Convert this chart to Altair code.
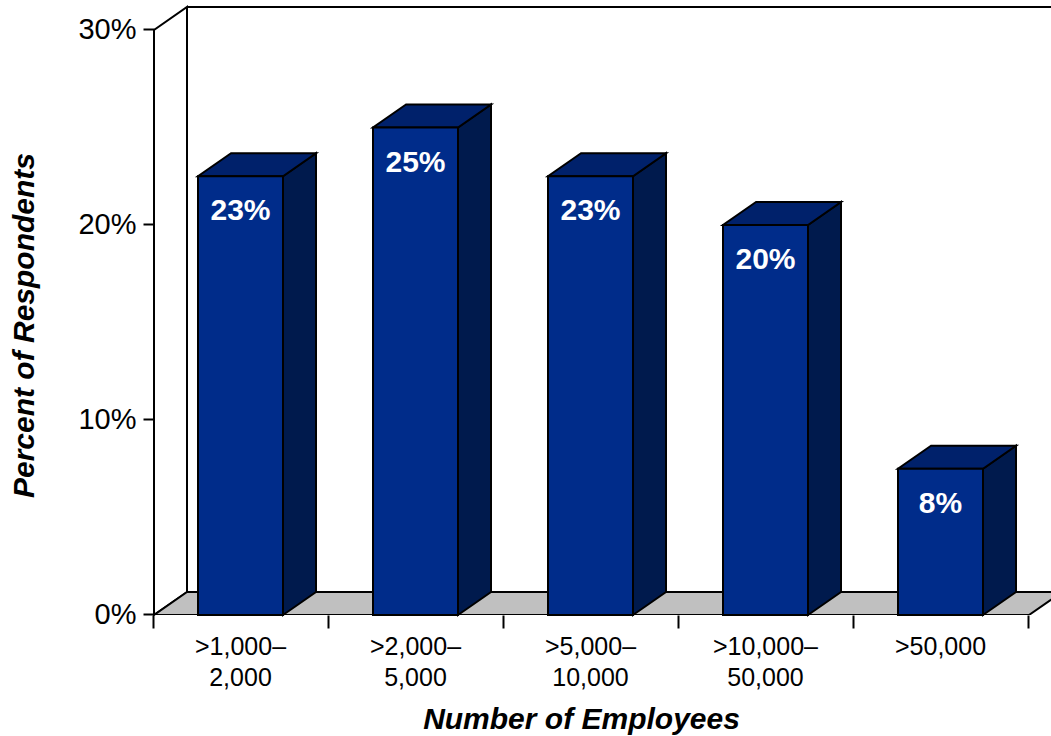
import altair as alt
import pandas as pd

# Survey results by company size
categories = [">1,000–\n2,000", ">2,000–\n5,000", ">5,000–\n10,000", ">10,000–\n50,000", ">50,000"]
percent = [22.5, 25, 22.5, 20, 7.5]
y_ticks = [0, 10, 20, 30]

# Oblique projection of the box shapes, in axis units
DEPTH_X = 33 / 175
DEPTH_Y = 23 / 19.5
BAR_START = 44 / 175
BAR_WIDTH = 85 / 175
N = len(categories)
X_MAX = 897 / 175
Y_MAX = 30 + DEPTH_Y

FONT = "Liberation Sans"
FRONT, TOP, SIDE, FLOOR = "#002c8a", "#00216b", "#001a4d", "#c0c0c0"

x_scale = alt.Scale(domain=[0, X_MAX], nice=False, zero=False)
y_scale = alt.Scale(domain=[0, Y_MAX], nice=False, zero=False)

x_axis = alt.Axis(
    values=list(range(N + 1)), labels=False, domain=False, grid=False,
    ticks=True, tickSize=13, tickWidth=2, tickColor="black", tickOffset=-1,
    title="Number of Employees", titleFont=FONT, titleFontSize=30,
    titleFontWeight="bold", titleFontStyle="italic", titleColor="black",
    titleX=427, titleY=89, titleAnchor="middle", titleAlign="center",
)
y_axis = alt.Axis(
    values=y_ticks, labelExpr="datum.value + '%'", domain=False, grid=False,
    ticks=True, tickSize=11, tickWidth=2, tickColor="black", tickOffset=-1,
    labelFont=FONT, labelFontSize=29, labelColor="black", labelPadding=7,
    title="Percent of Respondents", titleFont=FONT, titleFontSize=30,
    titleFontWeight="bold", titleFontStyle="italic", titleColor="black",
    titleX=-115, titleY=318, titleAnchor="middle", titleAlign="center",
)

X = lambda f="x": alt.X(f"{f}:Q", scale=x_scale, axis=x_axis)
Y = lambda f="y": alt.Y(f"{f}:Q", scale=y_scale, axis=y_axis)

# Tables derived from the value lists
bars = pd.DataFrame({
    "i": range(N),
    "v": percent,
    "cat": categories,
})
bars["l"] = bars["i"] + BAR_START
bars["r"] = bars["l"] + BAR_WIDTH
bars["c"] = bars["l"] + BAR_WIDTH / 2
bars["zero"] = 0.0

side_rows, top_rows = [], []
for _, b in bars.iterrows():
    side_rows += [
        {"i": b.i, "x": b.r, "y": 0.0, "y2": b.v},
        {"i": b.i, "x": b.r + DEPTH_X, "y": DEPTH_Y, "y2": b.v + DEPTH_Y},
    ]
    top_rows += [
        {"i": b.i, "y": b.v, "x": b.l, "x2": b.r},
        {"i": b.i, "y": b.v + DEPTH_Y, "x": b.l + DEPTH_X, "x2": b.r + DEPTH_X},
    ]
side = pd.DataFrame(side_rows)
top = pd.DataFrame(top_rows)

wall = pd.DataFrame({"x": [0, DEPTH_X], "y": [0, DEPTH_Y], "y2": [30, Y_MAX]})
floor = pd.DataFrame({"y": [0, DEPTH_Y], "x": [0, DEPTH_X], "x2": [N, N + DEPTH_X]})
back_top = pd.DataFrame({"x": [DEPTH_X], "x2": [X_MAX], "y": [Y_MAX]})
back_left = pd.DataFrame({"x": [DEPTH_X], "y": [DEPTH_Y], "y2": [Y_MAX]})

stroke = dict(stroke="black", strokeWidth=2)

wall_layer = alt.Chart(wall).mark_area(color="white", **stroke).encode(x=X(), y=Y(), y2="y2:Q")
back_top_layer = alt.Chart(back_top).mark_rule(**stroke).encode(x=X(), x2="x2:Q", y=Y())
back_left_layer = alt.Chart(back_left).mark_rule(**stroke).encode(x=X(), y=Y(), y2="y2:Q")
floor_layer = alt.Chart(floor).mark_area(
    color=FLOOR, orient="horizontal", clip=True, **stroke
).encode(y=Y(), x=X(), x2="x2:Q")

side_layer = alt.Chart(side).mark_area(color=SIDE, **stroke).encode(
    x=X(), y=Y(), y2="y2:Q", detail="i:N"
)
top_layer = alt.Chart(top).mark_area(color=TOP, orient="horizontal", **stroke).encode(
    y=Y(), x=X(), x2="x2:Q", detail="i:N"
)
front_layer = alt.Chart(bars).mark_rect(color=FRONT, **stroke).encode(
    x=X("l"), x2="r:Q", y=Y("zero"), y2="v:Q"
)

# Value labels inherit their number from the bar height
value_text = alt.Chart(bars).transform_calculate(
    label="format(datum.v, '.0f') + '%'"
).mark_text(
    font=FONT, fontSize=30, fontWeight="bold", color="white", baseline="middle", dy=35
).encode(x=X("c"), y=Y("v"), text="label:N")

category_text = alt.Chart(bars).mark_text(
    font=FONT, fontSize=25, color="black", baseline="top", lineBreak="\n",
    lineHeight=31, dy=20
).encode(x=X("c"), y=Y("zero"), text="cat:N")

chart = alt.layer(
    wall_layer, back_left_layer, back_top_layer, floor_layer,
    side_layer, top_layer, front_layer, value_text, category_text,
).properties(
    width=897,
    height=608,
    padding={"left": 154, "top": 7, "right": 0, "bottom": 121},
    autosize=alt.AutoSizeParams(type="none"),
    background="white",
).configure_view(stroke=None)

chart.save("out.html", embed_options={"renderer": "svg", "actions": False})
